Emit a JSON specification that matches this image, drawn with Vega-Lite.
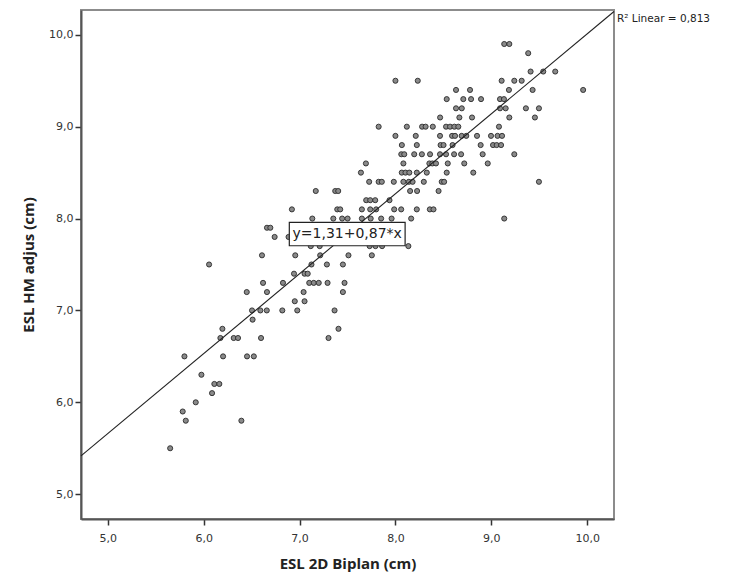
{
  "$schema": "https://vega.github.io/schema/vega-lite/v6.json",
  "autosize": {"type": "none"},
  "padding": {"left": 81, "top": 10, "right": 117, "bottom": 57},
  "width": 533,
  "height": 509,
  "background": "white",
  "config": {
    "view": {"stroke": "#8c8c8c", "strokeWidth": 2},
    "axis": {
      "grid": false,
      "domainColor": "#555555",
      "domainWidth": 2,
      "tickColor": "#333333",
      "tickWidth": 1.5,
      "tickSize": 6,
      "labelFont": "DejaVu Sans",
      "labelFontSize": 11,
      "labelColor": "#333333",
      "titleFont": "Open Sans",
      "titleFontSize": 15,
      "titleFontWeight": "bold",
      "titleColor": "#222222"
    }
  },
  "data": {"values": [
    {"x":9.135,"y":9.9},{"x":9.188,"y":9.9},
    {"x":9.385,"y":9.8},
    {"x":9.410,"y":9.6},{"x":9.542,"y":9.6},{"x":9.667,"y":9.6},
    {"x":8.000,"y":9.5},{"x":8.233,"y":9.5},{"x":9.108,"y":9.5},{"x":9.240,"y":9.5},{"x":9.317,"y":9.5},
    {"x":8.632,"y":9.4},{"x":8.778,"y":9.4},{"x":9.184,"y":9.4},{"x":9.431,"y":9.4},{"x":9.958,"y":9.4},
    {"x":8.535,"y":9.3},{"x":8.708,"y":9.3},{"x":8.789,"y":9.3},{"x":8.893,"y":9.3},{"x":9.091,"y":9.3},{"x":9.132,"y":9.3},
    {"x":8.632,"y":9.2},{"x":8.692,"y":9.2},{"x":9.091,"y":9.2},{"x":9.150,"y":9.2},{"x":9.361,"y":9.2},{"x":9.497,"y":9.2},
    {"x":8.466,"y":9.1},{"x":8.667,"y":9.1},{"x":8.799,"y":9.1},{"x":9.188,"y":9.1},{"x":9.455,"y":9.1},
    {"x":7.825,"y":9.0},{"x":8.119,"y":9.0},{"x":8.278,"y":9.0},{"x":8.315,"y":9.0},{"x":8.390,"y":9.0},{"x":8.528,"y":9.0},{"x":8.570,"y":9.0},{"x":8.615,"y":9.0},{"x":8.656,"y":9.0},{"x":9.080,"y":9.0},
    {"x":8.000,"y":8.9},{"x":8.212,"y":8.9},{"x":8.465,"y":8.9},{"x":8.591,"y":8.9},{"x":8.622,"y":8.9},{"x":8.691,"y":8.9},{"x":8.739,"y":8.9},{"x":8.851,"y":8.9},{"x":8.997,"y":8.9},{"x":9.065,"y":8.9},{"x":9.112,"y":8.9},
    {"x":8.067,"y":8.8},{"x":8.223,"y":8.8},{"x":8.471,"y":8.8},{"x":8.502,"y":8.8},{"x":8.596,"y":8.8},{"x":8.889,"y":8.8},{"x":9.018,"y":8.8},{"x":9.056,"y":8.8},{"x":9.102,"y":8.8},
    {"x":8.061,"y":8.7},{"x":8.092,"y":8.7},{"x":8.196,"y":8.7},{"x":8.276,"y":8.7},{"x":8.361,"y":8.7},{"x":8.465,"y":8.7},{"x":8.528,"y":8.7},{"x":8.612,"y":8.7},{"x":8.685,"y":8.7},{"x":8.910,"y":8.7},{"x":9.240,"y":8.7},
    {"x":7.692,"y":8.6},{"x":8.083,"y":8.6},{"x":8.354,"y":8.6},{"x":8.385,"y":8.6},{"x":8.423,"y":8.6},{"x":8.546,"y":8.6},{"x":8.718,"y":8.6},{"x":8.963,"y":8.6},
    {"x":7.640,"y":8.5},{"x":8.066,"y":8.5},{"x":8.105,"y":8.5},{"x":8.145,"y":8.5},{"x":8.223,"y":8.5},{"x":8.327,"y":8.5},{"x":8.535,"y":8.5},{"x":8.812,"y":8.5},
    {"x":7.726,"y":8.4},{"x":7.825,"y":8.4},{"x":7.858,"y":8.4},{"x":7.983,"y":8.4},{"x":8.083,"y":8.4},{"x":8.140,"y":8.4},{"x":8.179,"y":8.4},{"x":8.296,"y":8.4},{"x":8.483,"y":8.4},{"x":8.508,"y":8.4},{"x":9.497,"y":8.4},
    {"x":7.169,"y":8.3},{"x":7.372,"y":8.3},{"x":7.403,"y":8.3},{"x":8.153,"y":8.3},{"x":8.226,"y":8.3},{"x":8.450,"y":8.3},
    {"x":7.695,"y":8.2},{"x":7.737,"y":8.2},{"x":7.789,"y":8.2},{"x":7.938,"y":8.2},
    {"x":6.920,"y":8.1},{"x":7.393,"y":8.1},{"x":7.424,"y":8.1},{"x":7.650,"y":8.1},{"x":7.737,"y":8.1},{"x":7.799,"y":8.1},{"x":7.987,"y":8.1},{"x":8.060,"y":8.1},{"x":8.223,"y":8.1},{"x":8.359,"y":8.1},{"x":8.397,"y":8.1},
    {"x":7.133,"y":8.0},{"x":7.352,"y":8.0},{"x":7.444,"y":8.0},{"x":7.501,"y":8.0},{"x":7.650,"y":8.0},{"x":7.742,"y":8.0},{"x":7.851,"y":8.0},{"x":7.960,"y":8.0},{"x":8.164,"y":8.0},{"x":9.135,"y":8.0},
    {"x":6.660,"y":7.9},{"x":6.695,"y":7.9},
    {"x":6.740,"y":7.8},{"x":6.885,"y":7.8},
    {"x":7.117,"y":7.7},{"x":7.210,"y":7.7},{"x":7.731,"y":7.7},{"x":7.792,"y":7.7},{"x":7.861,"y":7.7},{"x":8.135,"y":7.7},
    {"x":6.608,"y":7.6},{"x":6.955,"y":7.6},{"x":7.215,"y":7.6},{"x":7.510,"y":7.6},{"x":7.754,"y":7.6},
    {"x":6.056,"y":7.5},{"x":7.124,"y":7.5},{"x":7.285,"y":7.5},{"x":7.452,"y":7.5},
    {"x":6.942,"y":7.4},{"x":7.052,"y":7.4},{"x":7.085,"y":7.4},
    {"x":6.619,"y":7.3},{"x":6.827,"y":7.3},{"x":7.101,"y":7.3},{"x":7.148,"y":7.3},{"x":7.200,"y":7.3},{"x":7.292,"y":7.3},{"x":7.469,"y":7.3},
    {"x":6.449,"y":7.2},{"x":6.660,"y":7.2},{"x":7.042,"y":7.2},{"x":7.452,"y":7.2},
    {"x":6.950,"y":7.1},{"x":7.052,"y":7.1},
    {"x":6.504,"y":7.0},{"x":6.591,"y":7.0},{"x":6.658,"y":7.0},{"x":6.820,"y":7.0},{"x":6.976,"y":7.0},{"x":7.365,"y":7.0},
    {"x":6.510,"y":6.9},
    {"x":6.195,"y":6.8},{"x":7.406,"y":6.8},
    {"x":6.174,"y":6.7},{"x":6.313,"y":6.7},{"x":6.358,"y":6.7},{"x":6.598,"y":6.7},{"x":7.302,"y":6.7},
    {"x":5.799,"y":6.5},{"x":6.202,"y":6.5},{"x":6.452,"y":6.5},{"x":6.523,"y":6.5},
    {"x":5.976,"y":6.3},
    {"x":6.111,"y":6.2},{"x":6.163,"y":6.2},
    {"x":6.087,"y":6.1},
    {"x":5.917,"y":6.0},
    {"x":5.781,"y":5.9},
    {"x":5.813,"y":5.8},{"x":6.393,"y":5.8},
    {"x":5.650,"y":5.5}
  ]},
  "layer": [
    {
      "mark": {"type": "point", "shape": "circle", "filled": true, "size": 26, "fill": "#8a8a8a", "stroke": "#2a2a2a", "strokeWidth": 0.9, "opacity": 1},
      "encoding": {
        "x": {"field": "x", "type": "quantitative", "scale": {"domain": [4.72, 10.28], "nice": false, "zero": false},
              "axis": {"title": "ESL 2D Biplan (cm)", "values": [5, 6, 7, 8, 9, 10], "labelExpr": "replace(format(datum.value, '.1f'), '.', ',')", "labelPadding": 7, "titlePadding": 13}},
        "y": {"field": "y", "type": "quantitative", "scale": {"domain": [4.73, 10.27], "nice": false, "zero": false},
              "axis": {"title": "ESL HM adjus (cm)", "values": [5, 6, 7, 8, 9, 10], "labelExpr": "replace(format(datum.value, '.1f'), '.', ',')", "labelPadding": 2, "titlePadding": 12}}
      }
    },
    {
      "data": {"values": [{"x": 4.72, "y": 5.4164}, {"x": 10.28, "y": 10.2536}]},
      "mark": {"type": "line", "color": "#222222", "strokeWidth": 1.1},
      "encoding": {
        "x": {"field": "x", "type": "quantitative"},
        "y": {"field": "y", "type": "quantitative"}
      }
    },
    {
      "data": {"values": [{}]},
      "mark": {"type": "rect", "fill": "white", "stroke": "#222222", "strokeWidth": 1.2},
      "encoding": {
        "x": {"datum": 6.893, "type": "quantitative"},
        "x2": {"datum": 8.101},
        "y": {"datum": 7.704, "type": "quantitative"},
        "y2": {"datum": 7.959}
      }
    },
    {
      "data": {"values": [{"label": "y=1,31+0,87*x"}]},
      "mark": {"type": "text", "font": "DejaVu Sans", "fontSize": 14, "color": "#222222", "align": "center", "baseline": "middle"},
      "encoding": {
        "x": {"datum": 7.497, "type": "quantitative"},
        "y": {"datum": 7.832, "type": "quantitative"},
        "text": {"field": "label"}
      }
    },
    {
      "data": {"values": [{"label": "R² Linear = 0,813"}]},
      "mark": {"type": "text", "font": "DejaVu Sans", "fontSize": 10.5, "color": "#222222", "align": "left", "baseline": "middle", "dx": 3, "clip": false},
      "encoding": {
        "x": {"datum": 10.28, "type": "quantitative"},
        "y": {"datum": 10.17, "type": "quantitative"},
        "text": {"field": "label"}
      }
    }
  ]
}
